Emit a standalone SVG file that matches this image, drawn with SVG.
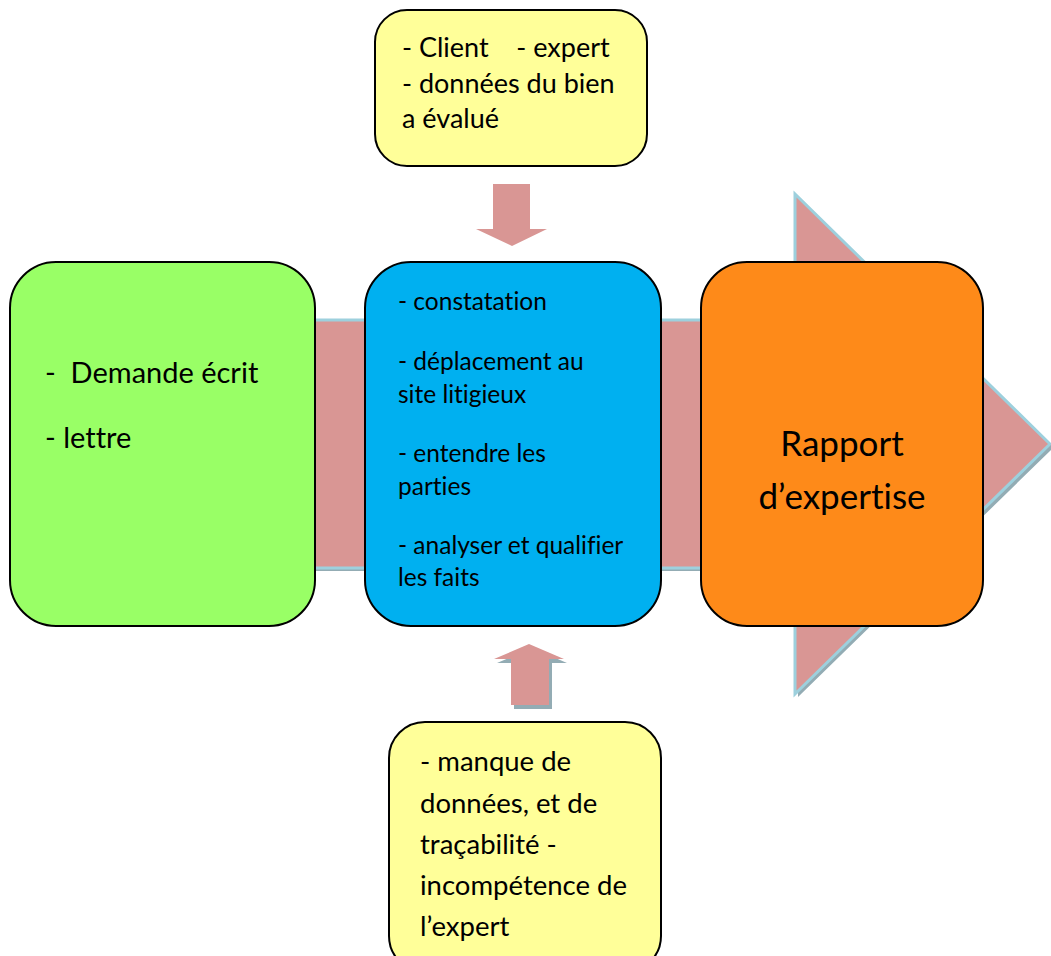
<svg xmlns="http://www.w3.org/2000/svg" width="1051" height="956" viewBox="0 0 1051 956">
  <style>
    .box { stroke: #000; stroke-width: 2; }
    .arrow { fill: #d99694; }
    .shadow { fill: #93acb4; }
    .outline { stroke: #9dd0dd; stroke-width: 3; stroke-linejoin: miter; }
    text { font-family: "Lato", "Open Sans", "Liberation Sans", sans-serif; fill: #000; font-variant-ligatures: none; font-feature-settings: "liga" 0, "dlig" 0; }
    .tb { font-size: 24.5px; }
    .tt { font-size: 27px; }
    .tg { font-size: 29px; }
    .tl { font-size: 27.5px; }
    .tr { font-size: 35px; }
  </style>

  <rect width="1051" height="956" fill="#fff"/>

  <!-- connectors: the main flow arrow and the two side inputs -->
  <g id="connectors">
    <g id="main-arrow">
      <path class="shadow" d="M 203 323 H 798 V 197 L 1054 447 L 798 697 V 571 H 203 Z"/>
      <path class="arrow outline" d="M 200 320 H 795 V 194 L 1050 444 L 795 694 V 568 H 200 Z"/>
    </g>
    <g id="arrow-down">
      <path class="arrow" d="M 493 184 H 530 V 229 H 547 L 512 246 L 476 229 H 493 Z"/>
    </g>
    <g id="arrow-up">
      <path class="shadow" d="M 514 709 V 663 H 497 L 532 648 L 567 663 H 552 V 709 Z"/>
      <path class="arrow" d="M 511 705 V 659 H 494 L 529 644 L 564 659 H 549 V 705 Z"/>
    </g>
  </g>

  <g id="node-demande">
    <rect class="box" x="10" y="262" width="305" height="364" rx="46" fill="#99ff66"/>
    <text class="tg" x="45" y="383" xml:space="preserve">-  Demande écrit</text>
    <text class="tg" x="45" y="448">- lettre</text>
  </g>

  <g id="node-expertise">
    <rect class="box" x="365" y="262" width="296" height="364" rx="46" fill="#00b0f0"/>
    <text class="tb" x="398" y="310">- constatation</text>
    <text class="tb" x="398" y="370">- déplacement au</text>
    <text class="tb" x="398" y="403">site litigieux</text>
    <text class="tb" x="398" y="462">- entendre les</text>
    <text class="tb" x="398" y="495">parties</text>
    <text class="tb" x="398" y="554">- analyser et qualifier</text>
    <text class="tb" x="398" y="586">les faits</text>
  </g>

  <g id="node-rapport">
    <rect class="box" x="701" y="262" width="282" height="364" rx="46" fill="#fe8a19"/>
    <text class="tr" x="842" y="456" text-anchor="middle">Rapport</text>
    <text class="tr" x="842" y="509" text-anchor="middle">d’expertise</text>
  </g>

  <g id="node-acteurs">
    <rect class="box" x="375" y="10" width="272" height="156" rx="32" fill="#ffff99"/>
    <text class="tt" x="402" y="57" xml:space="preserve">- Client    - expert</text>
    <text class="tt" x="402" y="93">- données du bien</text>
    <text class="tt" x="402" y="128">a évalué</text>
  </g>

  <g id="node-contraintes">
    <rect class="box" x="389" y="722" width="272" height="250" rx="36" fill="#ffff99"/>
    <text class="tl" x="420" y="771">- manque de</text>
    <text class="tl" x="420" y="813">données, et de</text>
    <text class="tl" x="420" y="854">traçabilité -</text>
    <text class="tl" x="420" y="895">incompétence de</text>
    <text class="tl" x="420" y="936">l’expert</text>
  </g>
</svg>
